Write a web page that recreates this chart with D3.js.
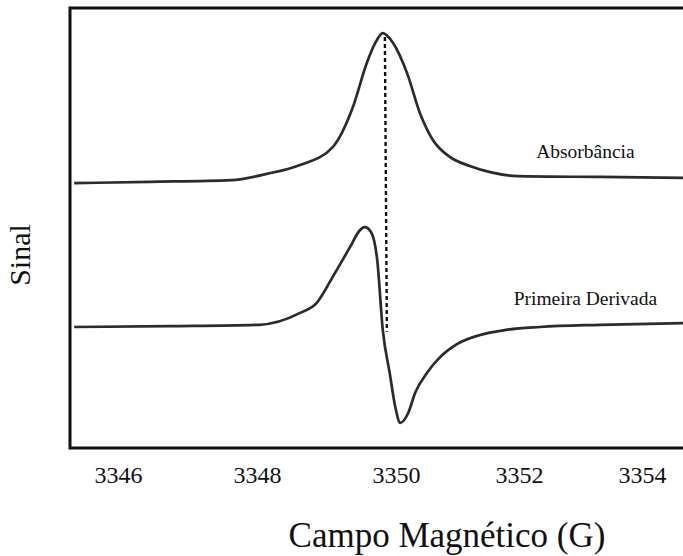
<!DOCTYPE html>
<html>
<head>
<meta charset="utf-8">
<script src="https://cdn.jsdelivr.net/npm/d3@7"></script>
<style>
  html, body { margin: 0; padding: 0; background: #fff; }
  svg { display: block; }
  text { font-family: "Liberation Serif", "Times New Roman", "DejaVu Serif", serif; fill: #111; }
</style>
</head>
<body>
<svg id="chart" width="683" height="556"></svg>
<script>
// ---- data (field in G, signal in arbitrary units) ----
const absField  = [3345.37, 3346.46, 3347.63, 3348.14, 3348.62, 3349.09, 3349.38, 3349.58, 3349.70, 3349.81, 3349.96, 3350.18, 3350.39, 3350.60, 3350.88, 3351.20, 3351.53, 3351.97, 3353.32, 3354.67];
const absSignal = [60.2, 60.5, 60.9, 62.3, 64.3, 68.4, 77.5, 87.5, 92.0, 94.3, 92.0, 85.2, 76.1, 70.0, 66.1, 64.1, 62.7, 61.8, 61.6, 61.4];

const derField  = [3345.37, 3346.75, 3348.03, 3348.62, 3348.86, 3349.09, 3349.34, 3349.48, 3349.55, 3349.64, 3349.73, 3349.81, 3349.91, 3349.99, 3350.07, 3350.20, 3350.31, 3350.50, 3350.72, 3350.99, 3351.37, 3351.77, 3352.34, 3353.32, 3354.67];
const derSignal = [27.5, 27.7, 28.0, 30.7, 33.0, 38.9, 45.7, 49.5, 50.2, 49.1, 42.7, 26.8, 17.0, 9.3, 5.7, 8.0, 12.5, 17.0, 20.7, 23.6, 25.7, 26.8, 27.5, 28.0, 28.4];

const tickValues = [3346, 3348, 3350, 3352, 3354];
const seriesLabels = ["Absorbância", "Primeira Derivada"];
const labelAnchors = [[3353.08, 65.9], [3353.08, 32.5]];   // [field, signal] of label baselines
const peakField = 3349.84;
const markerFrom = 94.3, markerTo = 26.4;
const xTitle = "Campo Magnético (G)";
const yTitle = "Sinal";

// ---- layout ----
const svg = d3.select("#chart");
const mLeft = 70, mTop = 8, mRight = 683, mBottom = 448;

// the printed axis is not evenly spaced, so the field scale is piecewise linear between ticks
const x = d3.scaleLinear()
  .domain(tickValues)
  .range([118, 257, 396, 519, 642]);
const y = d3.scaleLinear().domain([0, 100]).range([mBottom, mTop]);

const line = d3.line().x(d => x(d[0])).y(d => y(d[1])).curve(d3.curveMonotoneX);

const absData = absField.map((f, i) => [f, absSignal[i]]);
const derData = derField.map((f, i) => [f, derSignal[i]]);

// curves
[absData, derData].forEach(data => {
  svg.append("path")
    .datum(data)
    .attr("d", line)
    .attr("fill", "none")
    .attr("stroke", "#2b2b2b")
    .attr("stroke-width", 2.7)
    .attr("stroke-linejoin", "round");
});

// dashed marker at peak
svg.append("line")
  .attr("x1", x(peakField)).attr("x2", x(peakField) + 2)
  .attr("y1", y(markerFrom) + 4).attr("y2", y(markerTo))
  .attr("stroke", "#111")
  .attr("stroke-width", 2.4)
  .attr("stroke-dasharray", "4,3");

// frame (open on the right)
svg.append("path")
  .attr("d", `M${mRight},${mTop} H${mLeft} V${mBottom} H${mRight}`)
  .attr("fill", "none")
  .attr("stroke", "#111")
  .attr("stroke-width", 3);

// x axis tick labels
const xAxis = d3.axisBottom(x).tickValues(tickValues).tickSize(0).tickPadding(0).tickFormat(d3.format("d"));
const gx = svg.append("g")
  .attr("transform", `translate(0,${mBottom})`)
  .call(xAxis)
  .attr("font-family", '"Liberation Serif", "Times New Roman", serif')
  .attr("font-size", 24);
gx.select(".domain").remove();
gx.selectAll("text")
  .attr("dy", null)
  .attr("y", 35)
  .attr("fill", "#111");

// series labels
seriesLabels.forEach((t, i) => {
  svg.append("text")
    .attr("x", x(labelAnchors[i][0]))
    .attr("y", y(labelAnchors[i][1]))
    .attr("text-anchor", "middle")
    .style("font-size", "19.5px")
    .text(t);
});

// axis titles
svg.append("text")
  .attr("x", 447).attr("y", 547)
  .attr("text-anchor", "middle")
  .style("font-size", "35px")
  .text(xTitle);

svg.append("text")
  .attr("transform", "translate(30,255) rotate(-90)")
  .attr("text-anchor", "middle")
  .style("font-size", "30px")
  .text(yTitle);
</script>
</body>
</html>
